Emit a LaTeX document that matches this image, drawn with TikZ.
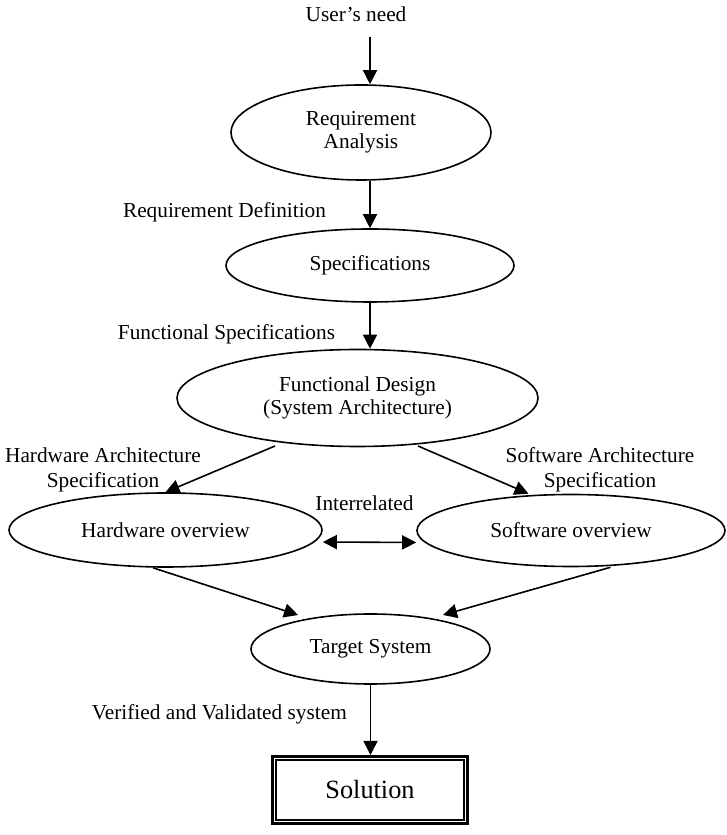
\documentclass[tikz,border=0pt]{standalone}
\usepackage{fontspec}
\setmainfont{Liberation Serif}
\usetikzlibrary{shapes.geometric,arrows.meta,calc}
\begin{document}
\begin{tikzpicture}[x=1pt,y=1pt,
  every node/.style={inner sep=0pt},
  lbl/.style={font=\fontsize{21.3}{25.5}\selectfont, align=center},
  oval/.style={draw, ellipse, line width=1.6pt, font=\fontsize{21.3}{23.5}\selectfont, align=center},
  arr/.style={line width=1.6pt, -{Triangle[length=14pt,width=14pt]}},
  darr/.style={line width=1.6pt, {Triangle[length=14pt,width=14pt]}-{Triangle[length=14pt,width=14pt]}},
  solbox/.style={draw, line width=3.3pt, font=\fontsize{26.3}{30}\selectfont}
]
\useasboundingbox (0,0) rectangle (726,835);

% ellipses
\node[oval, minimum width=260pt, minimum height=95pt] (ra) at (361,702.5) {Requirement\\Analysis};
\node[oval, minimum width=288pt, minimum height=73pt] (spec) at (370,569.5) {Specifications};
\node[oval, minimum width=361pt, minimum height=97pt] (fd) at (357.5,437) {Functional Design\\(System Architecture)};
\node[oval, minimum width=313pt, minimum height=74pt] (hw) at (165.5,305) {Hardware overview};
\node[oval, minimum width=308pt, minimum height=72pt] (sw) at (571,304.5) {Software overview};
\node[oval, minimum width=239pt, minimum height=70pt] (ts) at (370.5,186) {Target System};

% solution box
\node[solbox, minimum width=194.6pt, minimum height=66.7pt] (sol) at (370,45) {Solution};
\draw[line width=2pt] ([shift={(5.35,5.35)}]sol.south west) rectangle ([shift={(-5.35,-5.35)}]sol.north east);

% labels
\node[lbl, anchor=base] (user) at (356,813) {User’s need};
\node[lbl, anchor=base] (rdef) at (224.5,617) {Requirement Definition};
\node[lbl, anchor=base] (fspec) at (226.5,495) {Functional Specifications};
\node[lbl] (hwspec) at (103,365) {Hardware Architecture\\Specification};
\node[lbl] (swspec) at (600,365) {Software Architecture\\Specification};
\node[lbl, anchor=base] (inter) at (364.5,324) {Interrelated};
\node[lbl, anchor=base east] (vv) at (347,115) {Verified and Validated system};

% connectors
\coordinate (ustart) at (370,798);
\draw[arr] (ustart) -- (ustart |- ra.north);
\draw[arr] (ra.south -| spec.north) -- (spec.north);
\draw[arr] (spec.south) -- (spec.south |- fd.north);
\coordinate (fdl) at ([shift={(-82.5,-48)}]fd.center);
\coordinate (fdr) at ([shift={(60.5,-48)}]fd.center);
\draw[arr] (fdl) -- (hw.north);
\draw[arr] (fdr) -- ([xshift=-42.5pt]sw.north);
\draw[darr] ([yshift=-12pt]hw.east) -- ([yshift=-12pt]sw.west);
\coordinate (tsl) at ([shift={(-72.5,34)}]ts.center);
\coordinate (tsr) at ([shift={(72.5,34)}]ts.center);
\draw[arr] ([xshift=-12.5pt]hw.south) -- (tsl);
\draw[arr] ([xshift=39.5pt]sw.south) -- (tsr);
\draw[arr] (ts.south) -- (ts.south |- sol.north);
\end{tikzpicture}
\end{document}
